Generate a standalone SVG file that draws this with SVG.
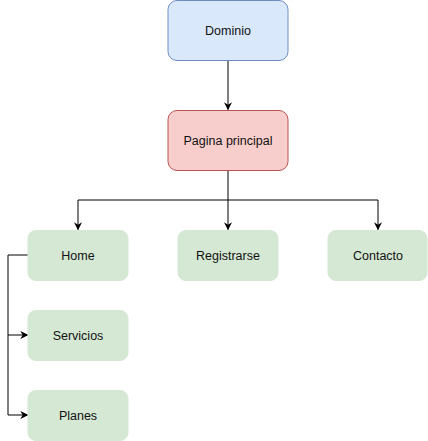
<svg xmlns="http://www.w3.org/2000/svg" width="428" height="441" viewBox="0 0 428 441">
<style>
.lbl{font-family:"Liberation Sans",Arial,sans-serif;font-size:12.5px;fill:#111;text-anchor:middle;dominant-baseline:central}
.green{fill:#d5e8d4;stroke:#d5e8d4}
.edge{fill:none;stroke:#000;stroke-width:1}
</style>
<defs>
<marker id="arr" viewBox="0 0 10 10" refX="9" refY="5" markerWidth="8" markerHeight="8" markerUnits="userSpaceOnUse" orient="auto">
<path d="M0,0 L10,5 L0,10 L3,5 Z" fill="#000"/>
</marker>
</defs>
<rect width="428" height="441" fill="#fff"/>
<g id="connectors">
<path class="edge" d="M228,60.5 V109.5" marker-end="url(#arr)"/>
<path class="edge" d="M228,170.5 V200 H78 V229.5" marker-end="url(#arr)"/>
<path class="edge" d="M228,200 V229.5" marker-end="url(#arr)"/>
<path class="edge" d="M228,200 H378 V229.5" marker-end="url(#arr)"/>
<path class="edge" d="M28,255 H8 V335 H27.5" marker-end="url(#arr)"/>
<path class="edge" d="M8,335 V415 H27.5" marker-end="url(#arr)"/>
</g>
<g id="dominio">
<rect x="168" y="0.5" width="120" height="60" rx="9" fill="#dae8fc" stroke="#6c8ebf"/>
<text class="lbl" x="228" y="31">Dominio</text>
</g>
<g id="pagina">
<rect x="168" y="110.5" width="120" height="60" rx="9" fill="#f8cecc" stroke="#b85450"/>
<text class="lbl" x="228" y="141">Pagina principal</text>
</g>
<g id="home">
<rect class="green" x="28" y="230.5" width="100" height="50" rx="8"/>
<text class="lbl" x="78" y="256">Home</text>
</g>
<g id="registrarse">
<rect class="green" x="178" y="230.5" width="100" height="50" rx="8"/>
<text class="lbl" x="228" y="256">Registrarse</text>
</g>
<g id="contacto">
<rect class="green" x="328" y="230.5" width="99" height="50" rx="8"/>
<text class="lbl" x="378" y="256">Contacto</text>
</g>
<g id="servicios">
<rect class="green" x="28" y="310.5" width="100" height="50" rx="8"/>
<text class="lbl" x="78" y="336">Servicios</text>
</g>
<g id="planes">
<rect class="green" x="28" y="390.5" width="100" height="50" rx="8"/>
<text class="lbl" x="78" y="416">Planes</text>
</g>
</svg>
